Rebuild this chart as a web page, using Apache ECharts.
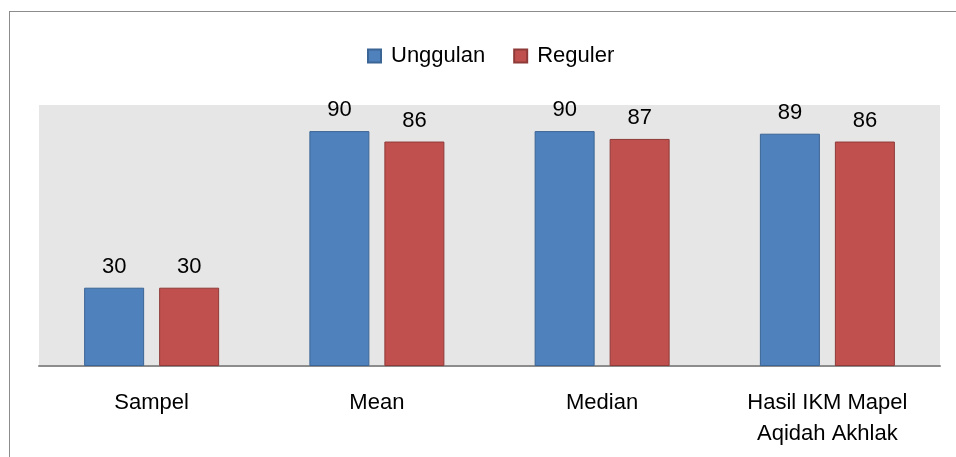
<!DOCTYPE html>
<html>
<head>
<meta charset="utf-8">
<script src="https://cdn.jsdelivr.net/npm/echarts@6/dist/echarts.min.js"></script>
<style>
  html, body { margin: 0; padding: 0; background: #fff; overflow: hidden; }
  #frame { position: absolute; left: 9px; top: 11px; width: 1000px; height: 500px; border: 1px solid #8c8c8c; box-sizing: border-box; }
  #chart { position: absolute; left: 0; top: 0; width: 956px; height: 457px; }
</style>
</head>
<body>
<div id="frame"></div>
<div id="chart"></div>
<script>
const categories = ['Sampel', 'Mean', 'Median', 'Hasil IKM Mapel\nAqidah Akhlak'];
const unggulan = [30, 90, 90, 89];
const reguler = [30, 86, 87, 86];

const font = '"Liberation Sans", "Noto Sans", sans-serif';
const chart = echarts.init(document.getElementById('chart'));

const labelStyle = {
  show: true,
  position: 'top',
  distance: 10,
  fontSize: 22,
  color: '#000',
  fontFamily: font,
};

chart.setOption({
  animation: false,
  backgroundColor: 'transparent',
  legend: {
    top: 40,
    left: 362,
    itemWidth: 13,
    itemHeight: 13,
    itemGap: 28,
    icon: 'rect',
    textStyle: { fontSize: 22, color: '#000', fontFamily: font, padding: [0, 0, 0, 5] },
    data: ['Unggulan', 'Reguler'],
  },
  grid: {
    left: 39,
    right: 16,
    top: 105,
    bottom: 91,
    show: true,
    backgroundColor: '#e6e6e6',
    borderWidth: 0,
  },
  xAxis: {
    type: 'category',
    data: categories,
    axisLine: { lineStyle: { color: '#8c8c8c', width: 2 } },
    axisTick: { show: false },
    axisLabel: {
      margin: 21,
      fontSize: 22,
      lineHeight: 31,
      color: '#000',
      fontFamily: font,
    },
  },
  yAxis: {
    type: 'value',
    min: 0,
    max: 100,
    axisLine: { show: false },
    axisTick: { show: false },
    axisLabel: { show: false },
    splitLine: { show: false },
  },
  series: [
    {
      name: 'Unggulan',
      type: 'bar',
      data: unggulan,
      barWidth: 60,
      barGap: '25%',
      itemStyle: { color: '#4f81bd', borderColor: '#3b6594', borderWidth: 1 },
      label: labelStyle,
    },
    {
      name: 'Reguler',
      type: 'bar',
      data: reguler,
      barWidth: 60,
      barGap: '25%',
      itemStyle: { color: '#c0504d', borderColor: '#8e3a38', borderWidth: 1 },
      label: labelStyle,
    },
  ],
});
</script>
</body>
</html>
